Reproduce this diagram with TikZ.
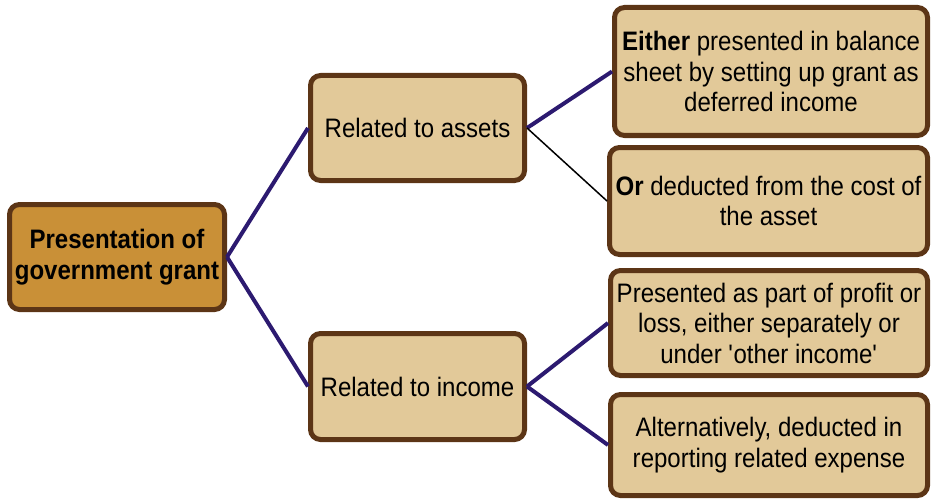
\documentclass[tikz,border=0pt]{standalone}
\usepackage{fontspec}
\setmainfont{Liberation Sans}[FakeStretch=0.9]
\definecolor{boxbrown}{RGB}{92,53,22}
\definecolor{boxgold}{RGB}{201,144,55}
\definecolor{boxtan}{RGB}{226,201,153}
\definecolor{linkblue}{RGB}{44,26,112}

\begin{document}
\begin{tikzpicture}[x=1pt,y=-1pt,
  box/.style={draw=boxbrown, line width=5pt, rounded corners=10pt, fill=boxtan,
    inner sep=0pt, align=center, font=\fontsize{26.7}{30.5}\selectfont},
  rootbox/.style={box, fill=boxgold, font=\fontsize{26.7}{30.5}\selectfont\bfseries},
  link/.style={draw=linkblue, line width=4pt},
  thinlink/.style={draw=black, line width=1.5pt}]

\useasboundingbox (0,0) rectangle (931,500);

% root
\node[rootbox, minimum width=215pt, minimum height=105pt] (pres) at (117,257)
  {Presentation of\\government grant};

% second level
\node[box, minimum width=214pt, minimum height=105pt] (assets) at (417.5,128) {Related to assets};
\node[box, minimum width=214pt, minimum height=106pt] (income) at (417.5,386.5) {Related to income};

% third level
\node[box, minimum width=313pt, minimum height=128pt] (either) at (771,71.5)
  {\textbf{Either} presented in balance\\sheet by setting up grant as\\deferred income};
\node[box, minimum width=318pt, minimum height=107pt] (or) at (768.5,201)
  {\textbf{Or} deducted from the cost of\\the asset};
\node[box, minimum width=317pt, minimum height=105pt] (profit) at (769,323)
  {Presented as part of profit or\\loss, either separately or\\under \textquotesingle other income\textquotesingle};
\node[box, minimum width=317pt, minimum height=101pt] (expense) at (769,445)
  {Alternatively, deducted in\\reporting related expense};

% connectors
\draw[link] (pres.east) -- (assets.west);
\draw[link] (pres.east) -- (income.west);
\draw[link] (assets.east) -- (either.west);
\draw[thinlink] (assets.east) -- (or.west);
\draw[link] (income.east) -- (profit.west);
\draw[link] (income.east) -- (expense.west);

\end{tikzpicture}
\end{document}
